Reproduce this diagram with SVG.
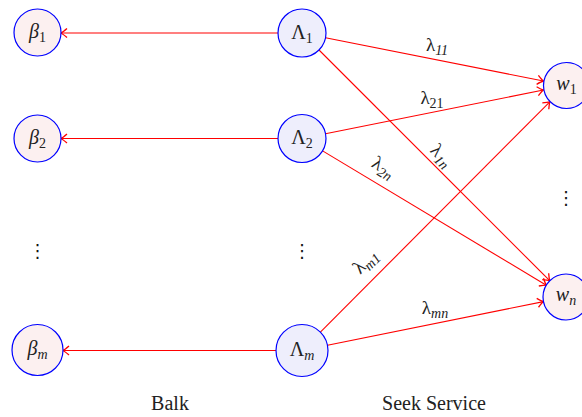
<svg xmlns="http://www.w3.org/2000/svg" width="582" height="417" viewBox="0 0 582 417">
<style>
.n{stroke:#0000ff;stroke-width:1.2}
.p{fill:#fcf0f0}
.b{fill:#eeeefc}
.e{stroke:#ff0000;stroke-width:1.1;fill:none;marker-end:url(#ah)}
text{font-family:"Liberation Serif","DejaVu Serif",serif;fill:#222}
.t{font-size:20px;text-anchor:middle}
.l{font-size:19px;text-anchor:middle}
.i{font-style:italic}
.s{font-size:14px}
.d{font-family:"DejaVu Sans",sans-serif;font-size:18px;text-anchor:middle;fill:#111}
.c{font-size:20px;text-anchor:middle}
</style>
<defs>
<marker id="ah" markerUnits="userSpaceOnUse" markerWidth="12" markerHeight="12" viewBox="-7 -5 8 10" refX="0" refY="0" orient="auto">
<path d="M-5,-3.8 Q-1.5,-0.8 0,0 Q-1.5,0.8 -5,3.8" fill="none" stroke="#ff0000" stroke-width="1.1"/>
</marker>
</defs>
<g id="connectors">
<line class="e" x1="278" y1="33" x2="61" y2="33"/>
<line class="e" x1="278" y1="138.5" x2="61" y2="138.5"/>
<line class="e" x1="276" y1="350.5" x2="63" y2="350.5"/>
<line class="e" x1="325.5" y1="37.7" x2="543.4" y2="81"/>
<line class="e" x1="319" y1="50" x2="549.7" y2="280.7"/>
<line class="e" x1="325.5" y1="133.8" x2="543.4" y2="90"/>
<line class="e" x1="322.6" y1="150.9" x2="546.3" y2="285.2"/>
<line class="e" x1="320.4" y1="332.1" x2="549.8" y2="101.8"/>
<line class="e" x1="327.5" y1="345.3" x2="543.5" y2="301.6"/>
<text class="l" x="437" y="51">λ<tspan class="s i" dy="4">11</tspan></text>
<text class="l" x="432" y="104">λ<tspan class="s" dy="4">21</tspan></text>
<text class="l" x="435" y="314">λ<tspan class="s i" dy="4">mn</tspan></text>
<text class="l" transform="translate(441,156) rotate(45)" x="0" y="5">λ<tspan class="s i" dy="4">1n</tspan></text>
<text class="l" transform="translate(383,168) rotate(31)" x="0" y="5">λ<tspan class="s i" dy="4">2n</tspan></text>
<text class="l" transform="translate(366,262) rotate(-45)" x="0" y="5">λ<tspan class="s i" dy="4">m1</tspan></text>
</g>
<g id="beta1"><circle class="n p" cx="37.5" cy="32.5" r="23.5"/><text class="t" x="37.5" y="38"><tspan class="i">β</tspan><tspan class="s" dy="4">1</tspan></text></g>
<g id="beta2"><circle class="n p" cx="37.5" cy="138.5" r="23.5"/><text class="t" x="37.5" y="144"><tspan class="i">β</tspan><tspan class="s" dy="4">2</tspan></text></g>
<g id="betadots"><text class="d" x="37.5" y="257">⋮</text></g>
<g id="betam"><circle class="n p" cx="37.5" cy="350" r="25.5"/><text class="t" x="37.5" y="355"><tspan class="i">β</tspan><tspan class="s i" dy="4">m</tspan></text></g>
<g id="Lambda1"><circle class="n b" cx="302" cy="33" r="24"/><text class="t" x="302" y="39">Λ<tspan class="s" dy="4">1</tspan></text></g>
<g id="Lambda2"><circle class="n b" cx="302" cy="138.5" r="24"/><text class="t" x="302" y="144">Λ<tspan class="s" dy="4">2</tspan></text></g>
<g id="Lambdadots"><text class="d" x="302" y="257">⋮</text></g>
<g id="Lambdam"><circle class="n b" cx="302" cy="350.5" r="26"/><text class="t" x="302" y="356">Λ<tspan class="s i" dy="4">m</tspan></text></g>
<g id="w1"><circle class="n p" cx="566.5" cy="85.5" r="23"/><text class="t" x="566.5" y="90"><tspan class="i">w</tspan><tspan class="s" dy="4">1</tspan></text></g>
<g id="wdots"><text class="d" x="566" y="204">⋮</text></g>
<g id="wn"><circle class="n p" cx="566" cy="297" r="23"/><text class="t" x="566" y="301"><tspan class="i">w</tspan><tspan class="s i" dy="4">n</tspan></text></g>
<g id="captions">
<text class="c" x="170" y="410">Balk</text>
<text class="c" x="434" y="410">Seek Service</text>
</g>
</svg>
